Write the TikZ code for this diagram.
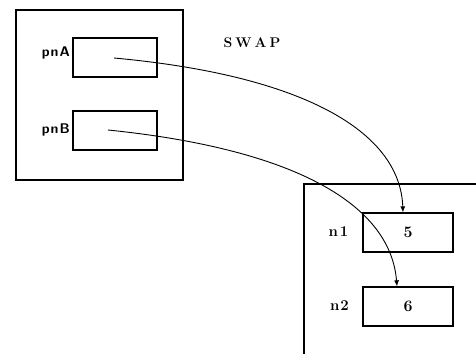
\documentclass[tikz,border=0pt]{standalone}
\usetikzlibrary{arrows.meta}
\begin{document}
\begin{tikzpicture}[x=1pt,y=-1pt,
  frame/.style={draw,line width=1.3pt},
  cell/.style={draw,line width=1.3pt,minimum width=84pt,minimum height=39pt,inner sep=0pt},
  vcell/.style={draw,line width=1.3pt,minimum width=90pt,minimum height=39pt,inner sep=0pt,font=\fontsize{16}{18}\selectfont\bfseries},
  lbl/.style={inner sep=0pt,font=\fontsize{14}{16}\selectfont\sffamily\bfseries},
  nlbl/.style={inner sep=0pt,font=\fontsize{15}{17}\selectfont\bfseries},
  ptr/.style={line width=0.9pt,-{Latex[length=6pt,width=5pt]}}]
\useasboundingbox (0,0) rectangle (476,354);
% left frame
\node[frame,minimum width=167pt,minimum height=170pt,inner sep=0pt] (swapframe) at (99.5,95) {};
\node[inner sep=0pt,font=\fontsize{14}{16}\selectfont\bfseries] (swap) at (252,43) {S\kern3pt W\kern3pt A\kern3pt P};
\node[cell] (pnA) at (115,57.5) {};
\node[cell] (pnB) at (115,130.5) {};
\node[lbl,anchor=east] (pnAl) at (70,53) {p\kern1pt n\kern1pt A};
\node[lbl,anchor=east] (pnBl) at (70,130) {p\kern1pt n\kern1pt B};
% right frame
\coordinate (rf1) at (304,354);
\coordinate (rf2) at (304,184);
\coordinate (rf3) at (476,184);
\draw[frame] (rf1) -- (rf2) -- (rf3);
\node[vcell] (n1) at (408,232.5) {5};
\node[vcell] (n2) at (408,306.5) {6};
\node[nlbl] (n1l) at (338.5,232) {n\kern2pt 1};
\node[nlbl] (n2l) at (339.5,306) {n\kern1pt 2};
% pointers
\coordinate (sA) at (114,58);
\coordinate (sB) at (108,130);
\draw[ptr] (sA) .. controls (300,75) and (400,130) .. (n1.north -| 403,0);
\draw[ptr] (sB) .. controls (285,148) and (390,200) .. (n2.north -| 397,0);
\end{tikzpicture}
\end{document}
